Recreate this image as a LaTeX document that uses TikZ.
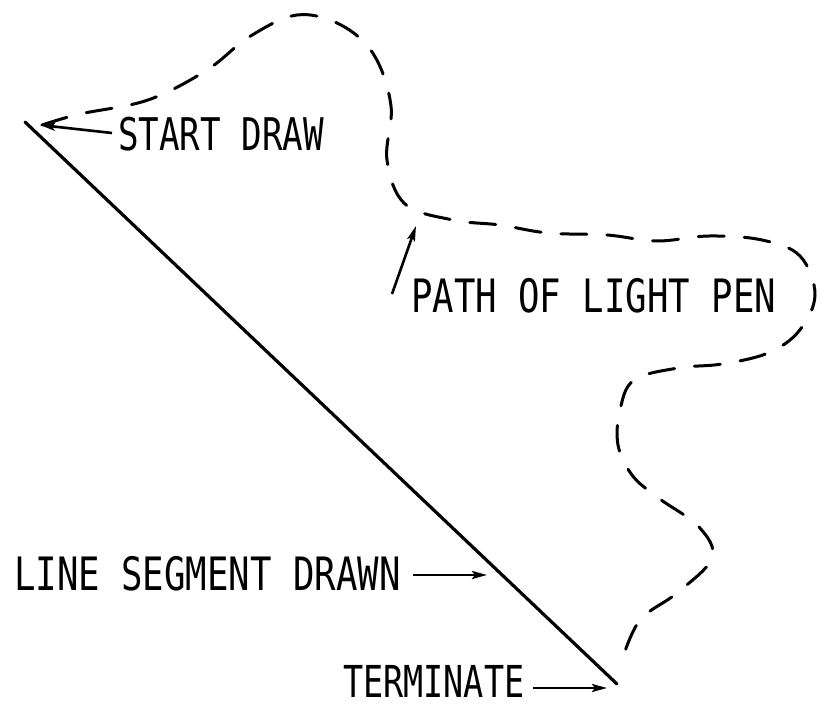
\documentclass[tikz,border=0pt]{standalone}
\usepackage{fontspec}
\newfontfamily\plotfont[FakeStretch=0.76]{DejaVu Sans Mono}
\newfontfamily\plotfontw[FakeStretch=0.775]{DejaVu Sans Mono}
\usetikzlibrary{arrows.meta}
\begin{document}
\begin{tikzpicture}[x=1pt,y=-1pt,
  lbl/.style={anchor=base west,inner sep=0pt,font=\fontsize{45}{50}\selectfont\plotfont},
  lblw/.style={lbl,font=\fontsize{46}{50}\selectfont\plotfontw},
  lbln/.style={lbl,font=\fontsize{44}{50}\selectfont\plotfont},
  ptr/.style={line width=2.6pt,-{Stealth[length=15pt,width=8pt,inset=3pt]}},
  seg/.style={line width=3.2pt,line cap=round},
  penpath/.style={line width=3pt,dash pattern=on 26pt off 20pt,line cap=round}]
\useasboundingbox (0,0) rectangle (820,706);
% line segment
\coordinate (a) at (25,122);
\coordinate (b) at (617,684);
\draw[seg] (a) -- (b);
% path of light pen
\draw[penpath] plot[smooth,tension=0.6] coordinates {
 (42,125) (80,114) (148,100) (207,70) (249,37) (297,15) (341,25) (374,55)
 (391,106) (387,160) (405,204) (453,220) (500,225) (548,233) (607,235)
 (657,241) (709,236) (762,240) (800,256) (815,295) (799,331) (768,353)
 (722,364) (678,368) (634,380) (620,410) (618,445) (632,475) (657,497)
 (699,527) (712,558) (677,593) (640,620) (622,660)};
% labels
\node[lbl] (sd) at (118,151) {START DRAW};
\node[lblw] (pl) at (411,312) {PATH OF LIGHT PEN};
\node[lblw] (ls) at (14,590) {LINE SEGMENT DRAWN};
\node[lbln] (tm) at (343,697) {TERMINATE};
% pointers
\coordinate (sdtip) at (40,125);
\coordinate (sdtail) at (112,133);
\coordinate (pltip) at (416,226);
\coordinate (pltail) at (392,294);
\coordinate (lstail) at (413,575);
\coordinate (lstip) at (487,575);
\coordinate (tmtail) at (533,688);
\coordinate (tmtip) at (607,688);
\draw[ptr] (sdtail) -- (sdtip);
\draw[ptr] (pltail) -- (pltip);
\draw[ptr] (lstail) -- (lstip);
\draw[ptr] (tmtail) -- (tmtip);
\end{tikzpicture}
\end{document}
